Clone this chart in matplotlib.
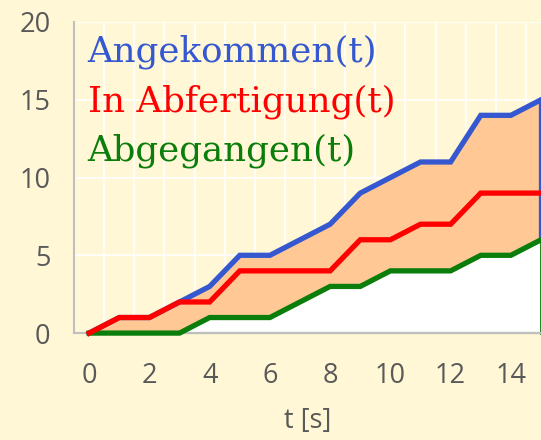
import matplotlib.pyplot as plt

# data
t = [0, 1, 2, 3, 4, 5, 6, 7, 8, 9, 10, 11, 12, 13, 14, 15]
angekommen = [0, 1, 1, 2, 3, 5, 5, 6, 7, 9, 10, 11, 11, 14, 14, 15]
in_abfertigung = [0, 1, 1, 2, 2, 4, 4, 4, 4, 6, 6, 7, 7, 9, 9, 9]
abgegangen = [0, 0, 0, 0, 1, 1, 1, 2, 3, 3, 4, 4, 4, 5, 5, 6]

x_ticks = [0, 2, 4, 6, 8, 10, 12, 14]
y_ticks = [0, 5, 10, 15, 20]

bg = '#FFF7D6'
blue = '#3558D0'
red = '#FF0000'
green = '#0A7D0A'
peach = '#FFC895'
grey_text = '#595959'

fig = plt.figure(figsize=(5.41, 4.40), dpi=100)
fig.patch.set_facecolor(bg)
ax = fig.add_axes([0.137, 0.243, 0.863, 0.707])
ax.set_facecolor(bg)

# grid: vertical lines between the integer categories, horizontal at major ticks
for gx in [v + 0.5 for v in t[:-1]]:
    ax.axvline(gx, color='white', lw=1.2, zorder=0)
for gy in y_ticks:
    ax.axhline(gy, color='white', lw=1.2, zorder=0)

# areas
ax.fill_between(t, abgegangen, angekommen, color=peach, lw=0, zorder=1)
ax.fill_between(t, 0, abgegangen, color='white', lw=0, zorder=1)

# lines
ax.plot(t, [0] * len(t), color=green, lw=1.5, zorder=2, clip_on=False)
ax.plot([t[-1], t[-1]], [0, abgegangen[-1]], color=green, lw=2, zorder=2, clip_on=False)
ax.plot([t[-1], t[-1]], [abgegangen[-1], angekommen[-1]], color=blue, lw=3.8, zorder=3, clip_on=False)
ax.plot(t, angekommen, color=blue, lw=3.8, zorder=3, clip_on=False, solid_joinstyle='miter')
ax.plot(t, abgegangen, color=green, lw=3.8, zorder=4, clip_on=False, solid_joinstyle='miter')
ax.plot(t, in_abfertigung, color=red, lw=3.8, zorder=5, clip_on=False, solid_joinstyle='miter')

ax.set_xlim(-0.5, 15)
ax.set_ylim(0, 20)

ax.set_xticks(x_ticks)
ax.set_yticks(y_ticks)
ax.tick_params(length=0, labelsize=19.5, labelcolor=grey_text)
ax.tick_params(axis='y', pad=17)
ax.tick_params(axis='x', pad=21)
for lab in ax.get_xticklabels() + ax.get_yticklabels():
    lab.set_family('Open Sans')
ax.set_xlabel('t [s]', fontsize=19.5, color=grey_text, family='Open Sans', labelpad=12)

for side in ['top', 'right']:
    ax.spines[side].set_visible(False)
ax.spines['left'].set_color('#BFBFBF')
ax.spines['bottom'].set_color('#BFBFBF')
ax.spines['left'].set_linewidth(1.5)
ax.spines['bottom'].set_linewidth(1.5)

# series labels inside the plot
labels = ['Angekommen(t)', 'In Abfertigung(t)', 'Abgegangen(t)']
colors = [blue, red, green]
for i, (txt, c) in enumerate(zip(labels, colors)):
    ax.text(-0.05, 18.1 - i * 3.2, txt, color=c, fontsize=25.7, family='DejaVu Serif',
            va='center', ha='left', zorder=6)

fig.savefig('out.png', dpi=100, facecolor=bg)
